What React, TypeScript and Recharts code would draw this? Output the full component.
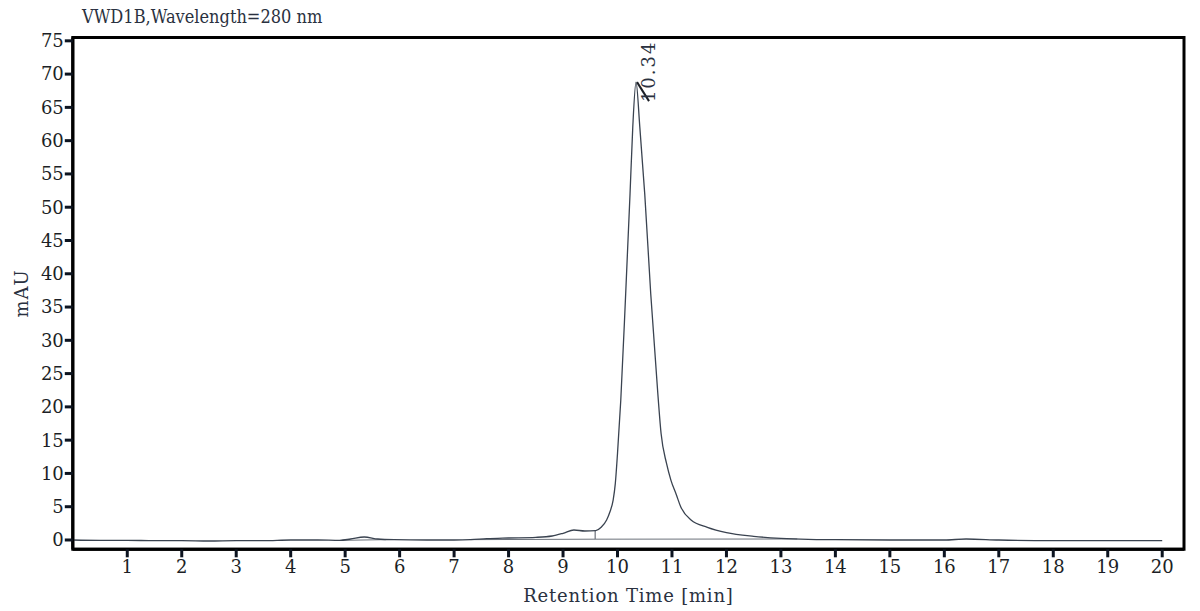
import React from 'react';
import { LineChart, Line, XAxis, YAxis, ReferenceArea, ReferenceDot } from 'recharts';

// chromatogram trace (time in min, signal in mAU)
const TIMES = [0, 0.5, 1, 1.5, 2, 2.5, 3, 3.5, 4, 4.5, 4.9, 5.1, 5.35, 5.6, 5.9, 6.5, 7, 7.3, 7.6, 8, 8.5, 8.8, 9, 9.2, 9.4, 9.6, 9.7, 9.8, 9.86, 9.92, 9.96, 10, 10.06, 10.15, 10.23, 10.28, 10.34, 10.41, 10.5, 10.61, 10.74, 10.8, 10.9, 10.98, 11.08, 11.16, 11.35, 11.65, 12, 12.5, 13, 13.5, 14, 15, 16, 16.4, 17, 18, 19, 20];
const SIGNAL = [0, -0.05, -0.05, -0.1, -0.1, -0.15, -0.1, -0.1, 0, 0, -0.05, 0.15, 0.45, 0.15, 0.05, 0, 0, 0.05, 0.2, 0.3, 0.4, 0.6, 1.0, 1.5, 1.35, 1.4, 1.9, 3.0, 4.2, 6.0, 8.5, 13, 21, 37, 52, 62, 68.8, 62, 52, 37, 22, 16, 11.5, 9.0, 6.8, 5.0, 3.0, 1.9, 1.1, 0.55, 0.25, 0.1, 0.05, 0, 0, 0.15, 0, -0.1, -0.1, -0.1];

// integration baselines drawn by the software
const BASE_TIMES = [4.95, 5.75, 6.5, 7.3, 9.59, 13.3];
const BASE_VALUES = [-0.05, 0.05, null, 0.05, 0.12, 0.15];

// drop line at peak start
const DROP_TIME = 9.59;
const DROP_VALUES = [0.12, 1.4];

const PEAK_TIME = 10.34;
const PEAK_HEIGHT = 68.8;
const PEAK_LABEL = '10.34';

const X_TICKS = [1, 2, 3, 4, 5, 6, 7, 8, 9, 10, 11, 12, 13, 14, 15, 16, 17, 18, 19, 20];
const Y_TICKS = [0, 5, 10, 15, 20, 25, 30, 35, 40, 45, 50, 55, 60, 65, 70, 75];

const X_DOMAIN: [number, number] = [0, 20.4];
const Y_DOMAIN: [number, number] = [-1.4, 75.5];

const traceData = TIMES.map((t, i) => ({ t, v: SIGNAL[i] }));
const baseData = BASE_TIMES.map((t, i) => ({ t, v: BASE_VALUES[i] }));
const dropData = DROP_VALUES.map(v => ({ t: DROP_TIME, v }));

const SERIF = 'DejaVu Serif';
const INK = '#1c1f26';
const TEXT_INK = '#2a3140';

const tickStyle = `
  .recharts-cartesian-axis-tick-value { font-family: 'DejaVu Serif', serif; font-size: 18px; fill: ${INK}; }
`;

const PeakMark = (props: any) => {
  const { cx, cy } = props;
  if (cx == null || cy == null) return null;
  return (
    <g>
      <line x1={cx + 1} y1={cy} x2={cx + 13} y2={cy + 19} stroke={INK} strokeWidth={2} />
      <text
        x={cx + 19}
        y={cy + 20}
        transform={`rotate(-90 ${cx + 19} ${cy + 20})`}
        fontFamily={SERIF}
        fontSize={18}
        letterSpacing={2}
        fill={TEXT_INK}
      >
        {PEAK_LABEL}
      </text>
    </g>
  );
};

export default function App() {
  return (
    <div style={{ position: 'absolute', left: 0, top: 0, width: 1200, height: 611, background: '#fff', fontFamily: SERIF }}>
      <style>{tickStyle}</style>
      <div
        style={{
          position: 'absolute',
          left: 82,
          top: 6,
          fontFamily: SERIF,
          fontSize: 18,
          lineHeight: '22px',
          color: TEXT_INK,
          whiteSpace: 'pre',
          transform: 'scaleX(0.9)',
          transformOrigin: 'left center',
        }}
      >
        VWD1B,Wavelength=280 nm
      </div>
      <LineChart width={1200} height={611} margin={{ top: 37.5, right: 16, left: 0, bottom: 0 }}>
        <XAxis
          type="number"
          dataKey="t"
          domain={X_DOMAIN}
          ticks={X_TICKS}
          allowDataOverflow
          height={61.7}
          tickSize={8}
          tickMargin={3}
          tick={{ fill: INK, fontSize: 18, fontFamily: SERIF }}
          axisLine={{ stroke: '#000', strokeWidth: 3 }}
          tickLine={{ stroke: '#0d1420', strokeWidth: 3 }}
          label={{
            value: 'Retention Time [min]',
            position: 'insideBottom',
            offset: 9,
            style: { fontFamily: SERIF, fontSize: 18, letterSpacing: 0.8, fill: TEXT_INK },
          }}
        />
        <YAxis
          type="number"
          domain={Y_DOMAIN}
          ticks={Y_TICKS}
          allowDataOverflow
          width={72.8}
          tickSize={8}
          tickMargin={1}
          tick={{ fill: INK, fontSize: 18, fontFamily: SERIF }}
          axisLine={{ stroke: '#000', strokeWidth: 3 }}
          tickLine={{ stroke: '#0d1420', strokeWidth: 3 }}
          label={{
            value: 'mAU',
            angle: -90,
            position: 'insideLeft',
            offset: 22,
            style: { fontFamily: SERIF, fontSize: 18, letterSpacing: 1, fill: TEXT_INK, textAnchor: 'middle' },
          }}
        />
        <ReferenceArea
          x1={X_DOMAIN[0]}
          x2={X_DOMAIN[1]}
          y1={Y_DOMAIN[0]}
          y2={Y_DOMAIN[1]}
          fill="none"
          stroke="#000"
          strokeWidth={3}
          ifOverflow="visible"
        />
        <Line data={baseData} dataKey="v" type="linear" stroke="#6b717a" strokeWidth={1} dot={false} isAnimationActive={false} />
        <Line data={dropData} dataKey="v" type="linear" stroke="#6b717a" strokeWidth={1.2} dot={false} isAnimationActive={false} />
        <Line data={traceData} dataKey="v" type="monotone" stroke="#3a4350" strokeWidth={1.3} dot={false} isAnimationActive={false} />
        <ReferenceDot x={PEAK_TIME} y={PEAK_HEIGHT} shape={PeakMark} ifOverflow="visible" />
      </LineChart>
    </div>
  );
}
